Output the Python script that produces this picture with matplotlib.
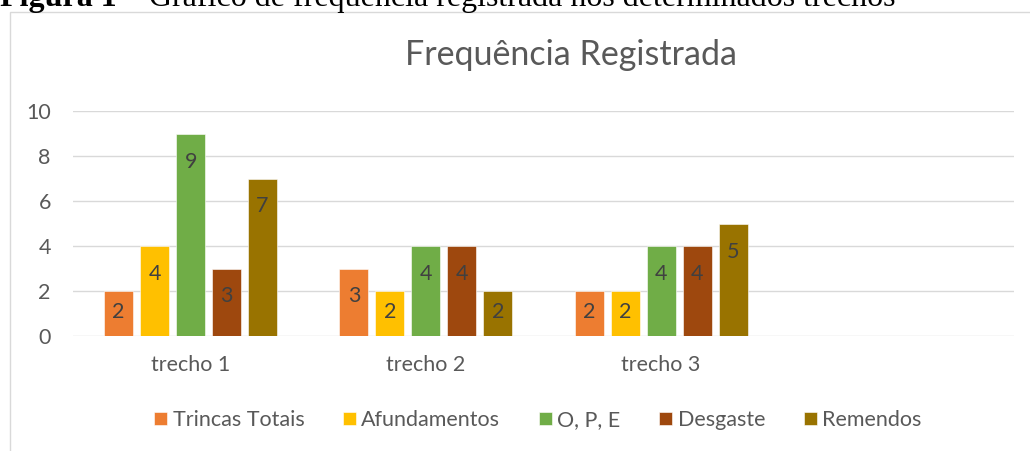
import matplotlib
matplotlib.use("Agg")
import matplotlib.pyplot as plt
from matplotlib.patches import Rectangle
import numpy as np

categories = ["trecho 1", "trecho 2", "trecho 3", ""]
series_names = ["Trincas Totais", "Afundamentos", "O, P, E", "Desgaste", "Remendos"]
trincas = [2, 3, 2]
afundamentos = [4, 2, 2]
ope = [9, 4, 4]
desgaste = [3, 4, 4]
remendos = [7, 2, 5]
colors = ["#ED7D31", "#FFC000", "#70AD47", "#9E480E", "#997300"]
yticks = [0, 2, 4, 6, 8, 10]

plt.rcParams['font.family'] = ['Lato', 'DejaVu Sans']

W, H = 1030, 451
fig = plt.figure(figsize=(W / 100, H / 100), dpi=100)

# chart border
fig.patches.append(Rectangle((10 / W, -0.1), 1.2, 1 - 12 / H + 0.1, transform=fig.transFigure,
                             fill=False, edgecolor="#D9D9D9", linewidth=1.0))

# caption (cut at top)
t1 = fig.text(0, 1 - 6 / H, "Figura 1", fontfamily="Liberation Serif", fontweight="bold",
              fontsize=23, va="baseline", ha="left", color="black")
fig.canvas.draw()
bb = t1.get_window_extent()
fig.text(bb.x1 / W, 1 - 6 / H, " – Gráfico de frequência registrada nos determinados trechos",
         fontfamily="Liberation Serif", fontsize=23, va="baseline", ha="left", color="black")

ax = fig.add_axes([73 / W, 1 - 336 / H, (1014 - 73) / W, (336 - 111) / H])
all_series = [trincas, afundamentos, ope, desgaste, remendos]
x = np.arange(len(categories))
pitch = 0.153
bw = 0.124
for i, (name, vals, c) in enumerate(zip(series_names, all_series, colors)):
    xs = x[:len(vals)] + (i - 2) * pitch
    ax.bar(xs, vals, width=bw, color=c, label=name, zorder=3,
           edgecolor="white", linewidth=0.4)
    for xi, v in zip(xs, vals):
        off = -28 if v * 22.5 > 50 else -21
        ax.annotate(str(v), (xi, v), xytext=(0, off * 0.72), textcoords="offset points",
                    ha="center", va="center", fontsize=15.5, color="#404040", zorder=4)

ax.set_xlim(-0.5, len(categories) - 0.5)
ax.set_ylim(0, 10)
ax.set_yticks(yticks)
ax.set_xticks(x)
ax.set_xticklabels(categories)
ax.grid(axis="y", color="#D9D9D9", linewidth=1.0, zorder=0)
for s in ax.spines.values():
    s.set_visible(False)
ax.tick_params(axis="both", length=0, labelsize=15.5, labelcolor="#595959")
ax.tick_params(axis="y", pad=16)
ax.tick_params(axis="x", pad=14)

fig.text(571 / W, 1 - 55 / H, "Frequência Registrada", ha="center", va="center",
         fontsize=24.5, color="#595959")

leg = fig.legend(loc="center", bbox_to_anchor=(538 / W, 1 - 420 / H), ncol=5, frameon=False,
                 fontsize=15.5, labelcolor="#595959", handlelength=0.6, handleheight=0.6,
                 handletextpad=0.25, columnspacing=1.8, borderpad=0)

fig.savefig("out.png", dpi=100)
